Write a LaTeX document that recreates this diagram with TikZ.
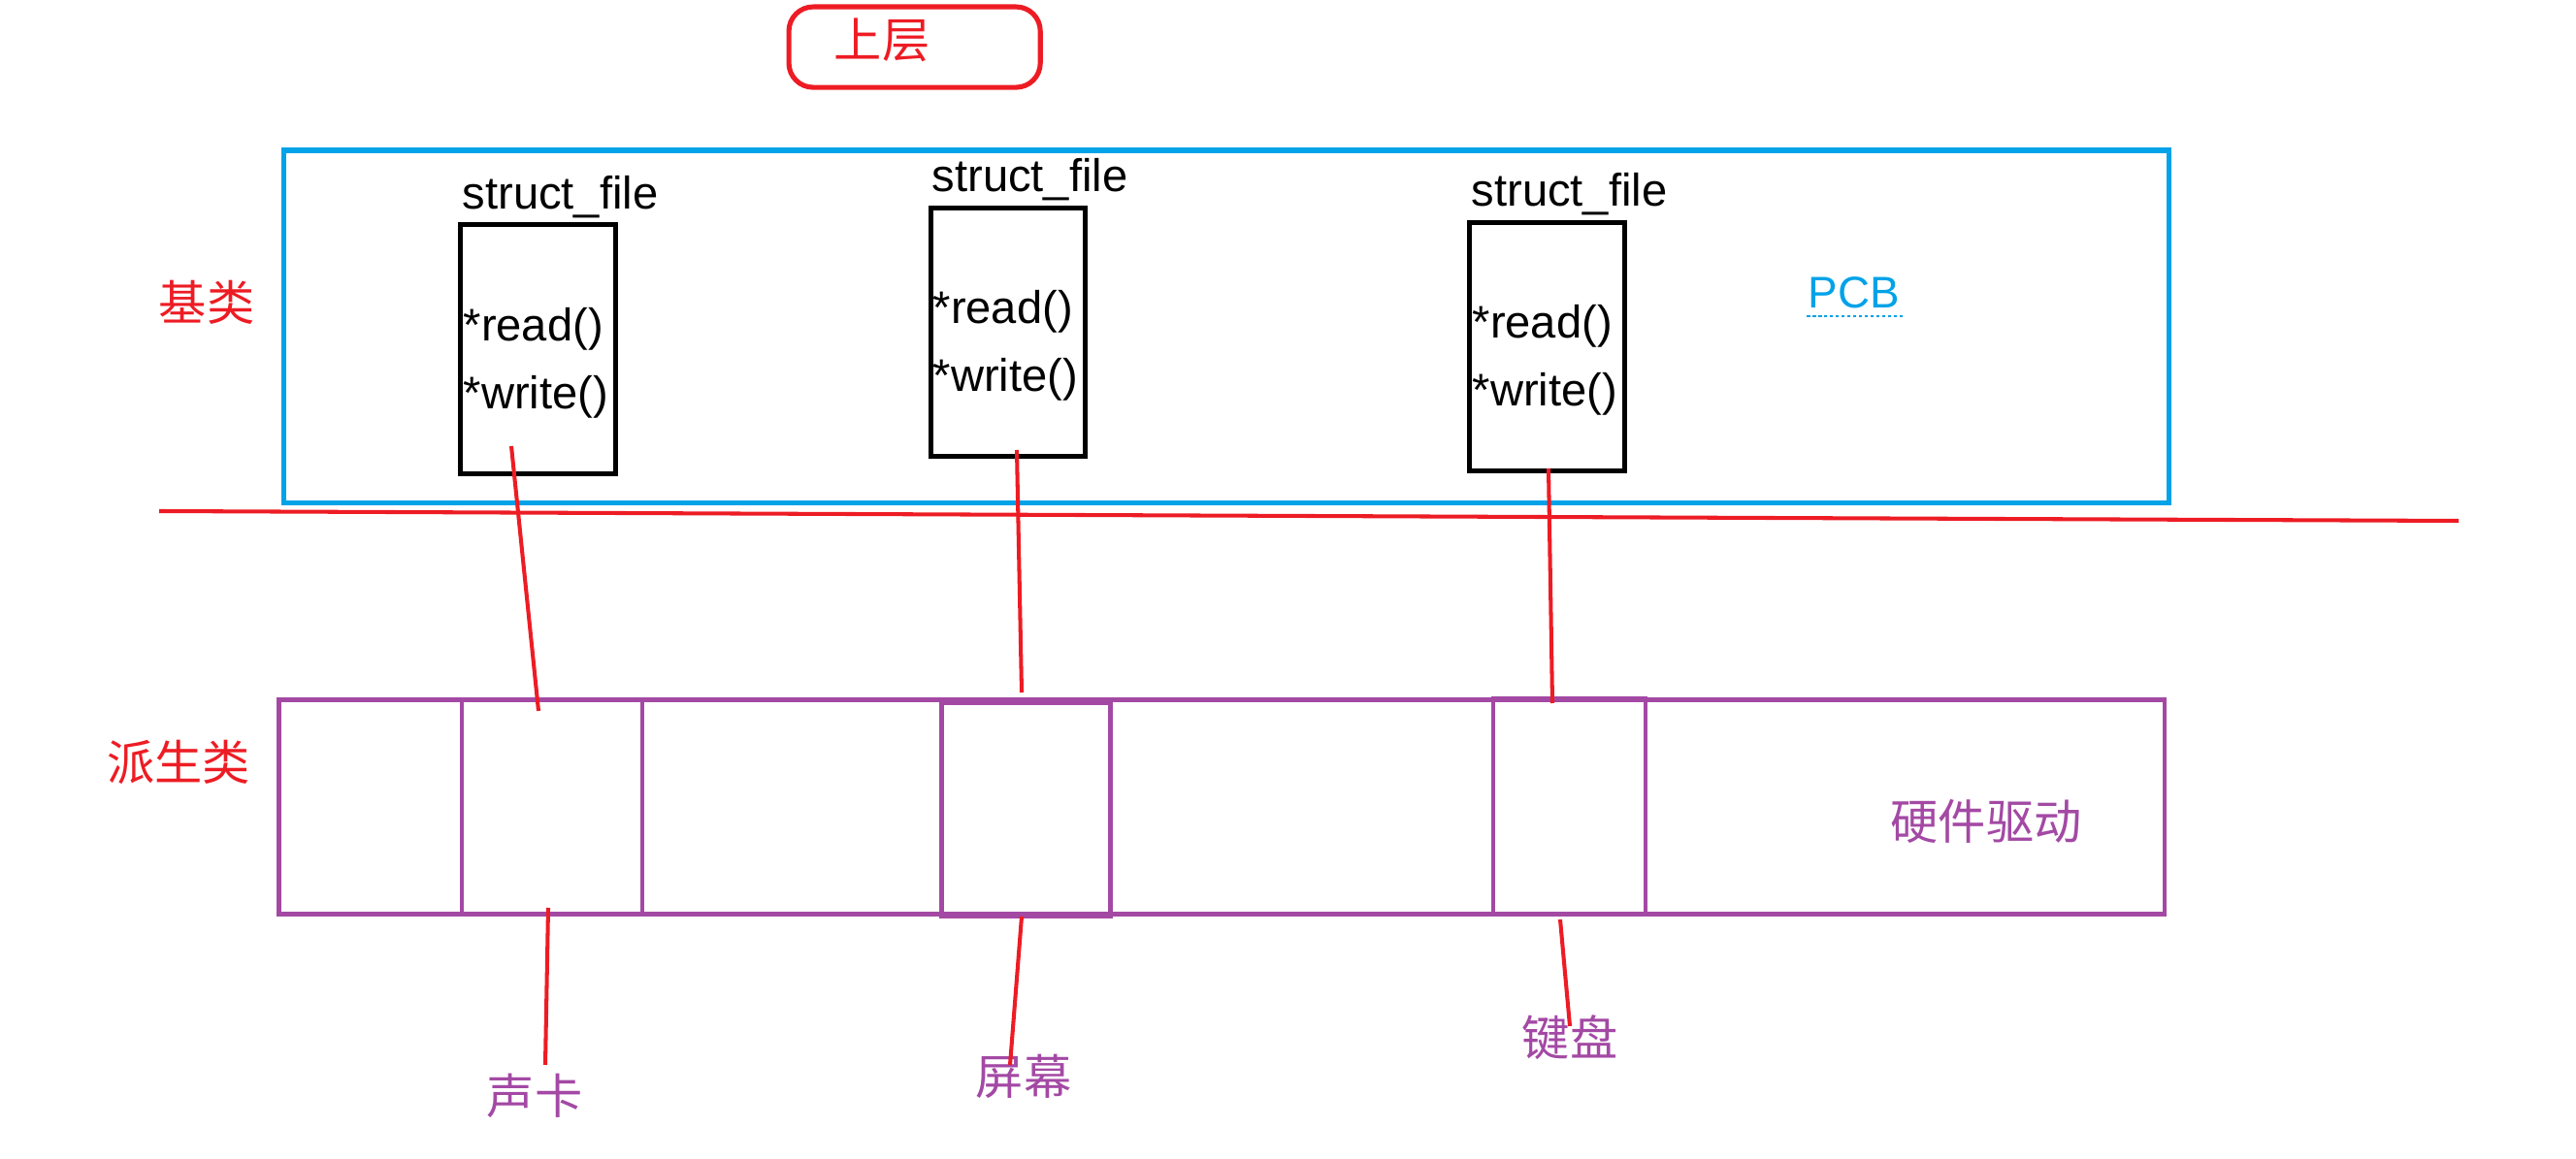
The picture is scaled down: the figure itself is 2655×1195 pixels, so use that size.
\documentclass[tikz,border=0pt]{standalone}
\usepackage{fontspec}
\setmainfont{Liberation Sans}
\newfontfamily\cjk{Noto Sans CJK SC}
\usetikzlibrary{calc}
\definecolor{pred}{HTML}{ED1C24}
\definecolor{pblue}{HTML}{00A2E8}
\definecolor{ppurple}{HTML}{A349A4}
\begin{document}
\begin{tikzpicture}[x=0.01cm,y=-0.01cm,
  fbox/.style={draw=black,line width=1.45pt,inner sep=0,outer sep=0,anchor=north west},
  pbox/.style={draw=ppurple,line width=1.25pt,inner sep=0,outer sep=0,anchor=north west},
  lbl/.style={font=\fontsize{13.4}{16}\selectfont,inner sep=0,anchor=base west},
  cjkred/.style={font=\cjk\fontsize{14}{16}\selectfont,text=pred,inner sep=0},
  cjkpur/.style={font=\cjk\fontsize{14}{16}\selectfont,text=ppurple,inner sep=0},
  link/.style={draw=pred,line width=1.15pt}]
\useasboundingbox (0,0) rectangle (2655,1195);

% top rounded box
\node[draw=pred,line width=1.45pt,rounded corners=0.25cm,inner sep=0,anchor=north west,
      minimum width=2.59cm,minimum height=0.83cm] (upper) at (810.5,4.5) {};
\node[cjkred] (upperlbl) at (909,41) {上层};

% base class container
\node[draw=pblue,line width=1.45pt,inner sep=0,anchor=north west,
      minimum width=19.425cm,minimum height=3.63cm] (pcbbox) at (289.5,152.5) {};
\node[font=\fontsize{13}{16}\selectfont,text=pblue,inner sep=0,anchor=base west] (pcb) at (1863,318) {PCB};
\draw[pblue,line width=0.6pt,dash pattern=on 1pt off 0.7pt] (1862,326) -- (1962,326);

% struct_file boxes
\node[fbox,minimum width=1.60cm,minimum height=2.57cm] (f1) at (474.5,231.5) {};
\node[fbox,minimum width=1.59cm,minimum height=2.56cm] (f2) at (959.5,214.5) {};
\node[fbox,minimum width=1.60cm,minimum height=2.56cm] (f3) at (1514.5,229.5) {};

\node[lbl] (t1) at (476,216) {struct\_file};
\node[lbl] (r1) at (477,352) {*read()};
\node[lbl] (w1) at (477,422) {*write()};
\node[lbl] (t2) at (960,198) {struct\_file};
\node[lbl] (r2) at (961,334) {*read()};
\node[lbl] (w2) at (961,404) {*write()};
\node[lbl] (t3) at (1516,213) {struct\_file};
\node[lbl] (r3) at (1517,349) {*read()};
\node[lbl] (w3) at (1517,419) {*write()};

% side labels
\node[cjkred] (base) at (213,312) {基类};
\node[cjkred] (derived) at (184,786) {派生类};

% dividing line
\coordinate (divL) at (164,527);
\coordinate (divR) at (2534,537);
\draw[link] (divL) -- (divR);

% derived class container
\node[pbox,minimum width=19.425cm,minimum height=2.21cm] (drv) at (287.5,721.5) {};
\node[pbox,minimum width=1.86cm,minimum height=2.22cm] (d1) at (476,721) {};
\node[pbox,minimum width=1.74cm,minimum height=2.20cm] (d2) at (970.5,725) {};
\node[pbox,minimum width=1.57cm,minimum height=2.23cm] (d3) at (1539,720) {};
\node[cjkpur] (hw) at (2047,847) {硬件驱动};

% labels below
\node[cjkpur] (sound) at (551,1130) {声卡};
\node[cjkpur] (screen) at (1055,1110) {屏幕};
\node[cjkpur] (kbd) at (1618,1070) {键盘};

% connectors
\coordinate (a1) at (527,460);  \coordinate (b1) at (555,733);
\coordinate (a2) at (1048,464); \coordinate (b2) at (1053,714);
\coordinate (a3) at (1596,483); \coordinate (b3) at (1600,725);
\draw[link] (a1) -- (b1);
\draw[link] (a2) -- (b2);
\draw[link] (a3) -- (b3);
\coordinate (c1) at (565,936);  \coordinate (e1) at (562,1098);
\coordinate (c2) at (1053,945); \coordinate (e2) at (1041,1098);
\coordinate (c3) at (1608,948); \coordinate (e3) at (1618,1058);
\draw[link] (c1) -- (e1);
\draw[link] (c2) -- (e2);
\draw[link] (c3) -- (e3);
\end{tikzpicture}
\end{document}
